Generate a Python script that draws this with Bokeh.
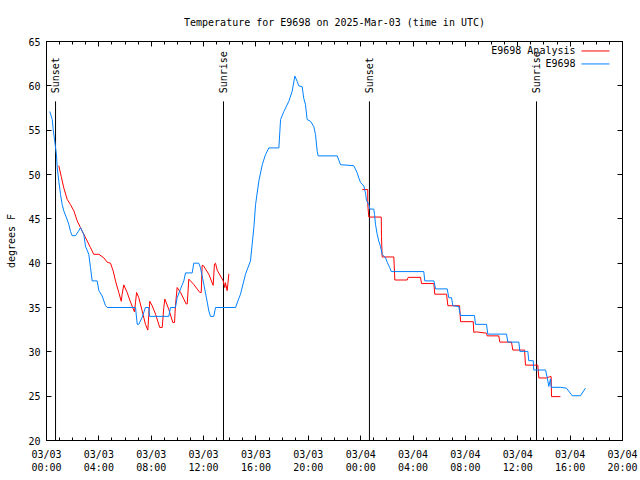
import math
import pandas as pd
from bokeh.plotting import figure
from bokeh.models import (FixedTicker, DatetimeTickFormatter, DatetimeAxis, LinearAxis,
                          Range1d, Label, ColumnDataSource)
from bokeh.core.properties import value
from bokeh.embed import file_html
from bokeh.resources import INLINE

# ---------------- data ----------------
start_time = "2025-03-03 00:00"
end_time = "2025-03-04 20:00"

# observed E9698 (hours after start, degrees F)
obs_hours = [0.25, 0.44, 0.51, 0.63, 0.76, 0.82, 0.94, 1.07, 1.20, 1.32, 1.53, 1.70, 1.83, 1.96,
             2.22, 2.44, 2.60, 2.73, 2.85, 2.98, 3.23, 3.36, 3.49, 3.87, 4.00, 4.25, 4.51, 4.64,
             6.80, 6.93, 7.05, 7.31, 7.56, 7.81, 7.87, 9.34, 9.47, 9.85, 9.98, 10.24, 10.49, 10.62,
             11.13, 11.25, 11.63, 11.76, 12.02, 12.28, 12.40, 12.53, 12.78, 12.91, 14.44, 14.69,
             14.82, 15.20, 15.58, 15.84, 15.97, 16.22, 16.48, 16.73, 16.98, 17.75, 17.88, 18.13,
             18.51, 18.77, 18.97, 19.15, 19.27, 19.53, 19.65, 19.78, 19.91, 20.17, 20.42, 20.55,
             20.68, 20.75, 22.21, 22.46, 23.47, 23.73, 23.86, 23.99, 24.24, 24.37, 24.44, 24.62,
             24.70, 25.00, 25.06, 25.13, 25.26, 25.38, 25.51, 25.64, 25.90, 26.03, 26.22, 26.33,
             28.82, 28.90, 29.59, 29.72, 30.61, 30.73, 30.94, 31.04, 31.50, 31.55, 31.63, 32.69,
             32.77, 33.61, 33.71, 35.14, 35.24, 36.08, 36.16, 36.77, 36.84, 37.18, 37.22, 38.12,
             38.25, 38.37, 38.50, 38.55, 39.26, 39.72, 40.16, 40.79, 41.17]
obs_temp = [57.1, 56.2, 55.1, 53.75, 52.25, 50.75, 49.25, 47.75, 46.6, 45.9, 45.1, 44.4, 43.6, 43.1,
            43.1, 43.6, 44.0, 43.6, 43.25, 41.9, 41.0, 39.5, 38.0, 38.0, 36.9, 36.3, 35.2, 35.0,
            35.0, 33.1, 33.1, 33.9, 35.0, 35.0, 34.0, 34.0, 35.0, 35.0, 36.1, 37.1, 38.0, 38.9,
            38.9, 40.0, 40.0, 39.5, 37.6, 35.6, 34.6, 34.0, 34.0, 35.0, 35.0, 36.0,
            36.5, 38.75, 40.25, 44.0, 46.6, 49.25, 51.1, 52.25, 53.0, 53.0, 56.2, 57.1,
            58.25, 59.4, 61.1, 60.5, 60.0, 59.9, 58.6, 57.9, 56.2, 56.0, 55.4, 54.5,
            52.6, 52.1, 52.1, 51.1, 51.0, 50.2, 49.6, 49.1, 48.7, 47.9, 47.1, 46.6,
            46.1, 46.1, 45.5, 44.4, 43.25, 42.5, 41.9, 41.0, 40.6, 40.1, 39.5, 39.05,
            39.05, 38.0, 38.0, 37.1, 37.1, 36.1, 36.1, 35.2, 35.1, 34.6, 34.1, 34.1,
            33.1, 33.1, 32.0, 32.0, 31.1, 31.1, 30.05, 30.05, 29.0, 29.0, 27.95, 27.95,
            27.1, 26.1, 26.95, 26.0, 26.0, 25.9, 25.05, 25.05, 25.9]

# analysis, first night
ana1_hours = [0.94, 1.12, 1.32, 1.58, 1.83, 2.09, 2.35, 2.60, 2.73, 3.11, 3.36, 3.61, 4.00, 4.38,
              4.64, 4.89, 5.10, 5.27, 5.52, 5.71, 5.78, 5.90, 6.16, 6.42, 6.72, 6.80, 6.88, 7.05,
              7.31, 7.56, 7.74, 7.81, 7.89, 8.07, 8.33, 8.65, 8.84, 8.96, 9.04, 9.34, 9.65, 9.78,
              9.85, 9.98, 10.24, 10.67, 10.75, 10.87, 11.25, 11.71, 11.82, 11.89, 11.97, 12.40,
              12.73, 12.83, 12.91, 13.04, 13.50, 13.62, 13.67, 13.80, 13.85, 13.93]
ana1_temp = [51.0, 49.8, 48.5, 47.2, 46.6, 45.9, 44.75, 44.0, 43.6, 42.5, 41.75, 41.0, 41.0, 40.6,
             40.1, 40.0, 39.1, 38.0, 36.7, 35.7, 36.5, 37.55, 36.7, 35.6, 34.5, 35.6, 36.7, 36.1,
             34.6, 33.1, 32.45, 34.1, 35.7, 35.2, 34.25, 32.75, 32.75, 35.0, 35.95, 34.8, 33.3, 33.3,
             35.2, 37.25, 36.7, 35.4, 35.4, 38.2, 37.6, 36.7, 36.7, 39.75, 39.75, 38.75,
             37.5, 39.9, 40.0, 39.2, 38.0, 37.25, 37.8, 36.9, 37.6, 38.8]

# analysis, second night
ana2_hours = [24.12, 24.54, 24.54, 24.62, 25.57, 25.59, 25.64, 26.53, 26.61, 27.55, 27.63, 28.57,
              28.65, 29.59, 29.66, 30.56, 30.66, 31.55, 31.63, 32.60, 32.64, 32.85, 33.61, 33.66,
              34.55, 34.63, 35.52, 35.62, 36.52, 36.59, 37.53, 37.61, 38.19, 38.45, 38.55, 38.58,
              39.26]
ana2_temp = [48.3, 48.3, 46.6, 45.2, 45.2, 43.0, 40.7, 40.7, 38.1, 38.1, 38.4, 38.4,
             37.7, 37.7, 36.5, 36.5, 35.2, 35.2, 33.4, 33.4, 32.2, 32.25, 32.1, 31.8,
             31.8, 31.1, 31.1, 30.2, 30.2, 28.5, 28.5, 27.05, 27.05, 27.2, 27.2, 24.95,
             24.95]

sun_hours = [0.69, 13.52, 24.67, 37.43]
sun_labels = ["Sunset", "Sunrise", "Sunset", "Sunrise"]

y_min, y_max = 20, 65
y_ticks = [20, 25, 30, 35, 40, 45, 50, 55, 60, 65]
x_major_step_h = 4
x_minor_step_h = 1
total_hours = 44

title_text = "Temperature for E9698 on 2025-Mar-03 (time in UTC)"
y_label = "degrees F"
series_names = ["E9698 Analysis", "E9698"]
red = "#ff0000"
blue = "#0080ff"
FONT = "DejaVu Sans Mono"
FS = "10px"

# ---------------- build ----------------
t0 = pd.Timestamp(start_time)
t1 = pd.Timestamp(end_time)

def to_time(hours):
    return t0 + pd.to_timedelta(hours, unit="h")

obs_src = ColumnDataSource(dict(t=to_time(obs_hours), v=obs_temp))
a1_src = ColumnDataSource(dict(t=to_time(ana1_hours), v=ana1_temp))
a2_src = ColumnDataSource(dict(t=to_time(ana2_hours), v=ana2_temp))

FRAME_W, FRAME_H = 576, 400
p = figure(width=640, height=480, x_axis_type="datetime", output_backend="svg",
           toolbar_location=None, x_range=Range1d(t0, t1), y_range=Range1d(y_min, y_max),
           min_border_left=46, min_border_right=18, min_border_top=40, min_border_bottom=40,
           title=title_text)
p.background_fill_color = "white"
p.border_fill_color = "white"
p.outline_line_color = "black"
p.outline_line_width = 1
p.xgrid.visible = False
p.ygrid.visible = False

p.title.text_font = FONT
p.title.text_font_size = FS
p.title.text_font_style = "normal"
p.title.text_color = "black"
p.title.align = "center"
p.title.standoff = 28

t0_ms = t0.value // 10**6
hour_ms = 3600 * 1000
x_major = [t0_ms + h * hour_ms for h in range(0, total_hours + 1, x_major_step_h)]
x_minor = [t0_ms + h * hour_ms for h in range(0, total_hours + 1, x_minor_step_h)]
x_ticker = FixedTicker(ticks=x_major, minor_ticks=x_minor)
y_ticker = FixedTicker(ticks=y_ticks, minor_ticks=[])
fmt = "%m/%d\n%H:%M"
x_fmt = DatetimeTickFormatter(microseconds=fmt, milliseconds=fmt, seconds=fmt, minsec=fmt,
                              minutes=fmt, hourmin=fmt, hours=fmt, days=fmt, months=fmt, years=fmt)

def style_axis(ax, show_labels):
    ax.axis_line_color = "black"
    ax.major_tick_in = 5
    ax.major_tick_out = 0
    ax.minor_tick_in = 3
    ax.minor_tick_out = 0
    ax.major_tick_line_color = "black"
    ax.minor_tick_line_color = "black"
    ax.major_label_text_font = FONT
    if show_labels:
        ax.major_label_text_font_size = FS
        ax.major_label_text_color = "black"
    else:
        # mirror ticks only: labels are not drawn
        ax.major_label_text_font_size = "1px"
        ax.major_label_text_color = None
        ax.major_label_standoff = 0

xa = p.xaxis[0]
xa.ticker = x_ticker
xa.formatter = x_fmt
style_axis(xa, True)
xa.major_label_standoff = 8

ya = p.yaxis[0]
ya.ticker = y_ticker
style_axis(ya, True)
ya.major_label_standoff = 6
ya.axis_label = y_label
ya.axis_label_text_font = FONT
ya.axis_label_text_font_size = FS
ya.axis_label_text_font_style = "normal"
ya.axis_label_text_color = "black"
ya.axis_label_standoff = 8

top_ax = DatetimeAxis(ticker=x_ticker)
style_axis(top_ax, False)
p.add_layout(top_ax, "above")
right_ax = LinearAxis(ticker=y_ticker)
style_axis(right_ax, False)
p.add_layout(right_ax, "right")

# sunrise/sunset markers
sun_t = to_time(sun_hours)
line_top = y_min + 0.85 * (y_max - y_min)
label_y = y_min + 0.87 * (y_max - y_min)
p.segment(x0=sun_t, y0=[y_min] * len(sun_t), x1=sun_t, y1=[line_top] * len(sun_t),
          line_color="black", line_width=1)
p.text(x=sun_t, y=[label_y] * len(sun_t), text=sun_labels, angle=math.pi / 2,
       text_font=value(FONT), text_font_size=FS, text_align="left", text_baseline="middle",
       text_color="black")

# series
p.line("t", "v", source=a1_src, line_color=red, line_width=1)
p.line("t", "v", source=a2_src, line_color=red, line_width=1)
p.line("t", "v", source=obs_src, line_color=blue, line_width=1)

# key (text left, sample right, like the original); placed by frame fractions
key_rows_px = [390.5, 377.5]
key_colors = [red, blue]
span = t1 - t0
kx0 = t0 + span * (535 / FRAME_W)
kx1 = t0 + span * (563 / FRAME_W)
for name, r, col in zip(series_names, key_rows_px, key_colors):
    ky = y_min + (y_max - y_min) * r / FRAME_H
    p.segment(x0=[kx0], y0=[ky], x1=[kx1], y1=[ky], line_color=col, line_width=1)
    p.add_layout(Label(x=529, y=r, x_units="screen", y_units="screen", text=name,
                       text_font=FONT, text_font_size=FS, text_align="right",
                       text_baseline="middle", text_color="black"))

open("out.html", "w").write(file_html(p, INLINE))
